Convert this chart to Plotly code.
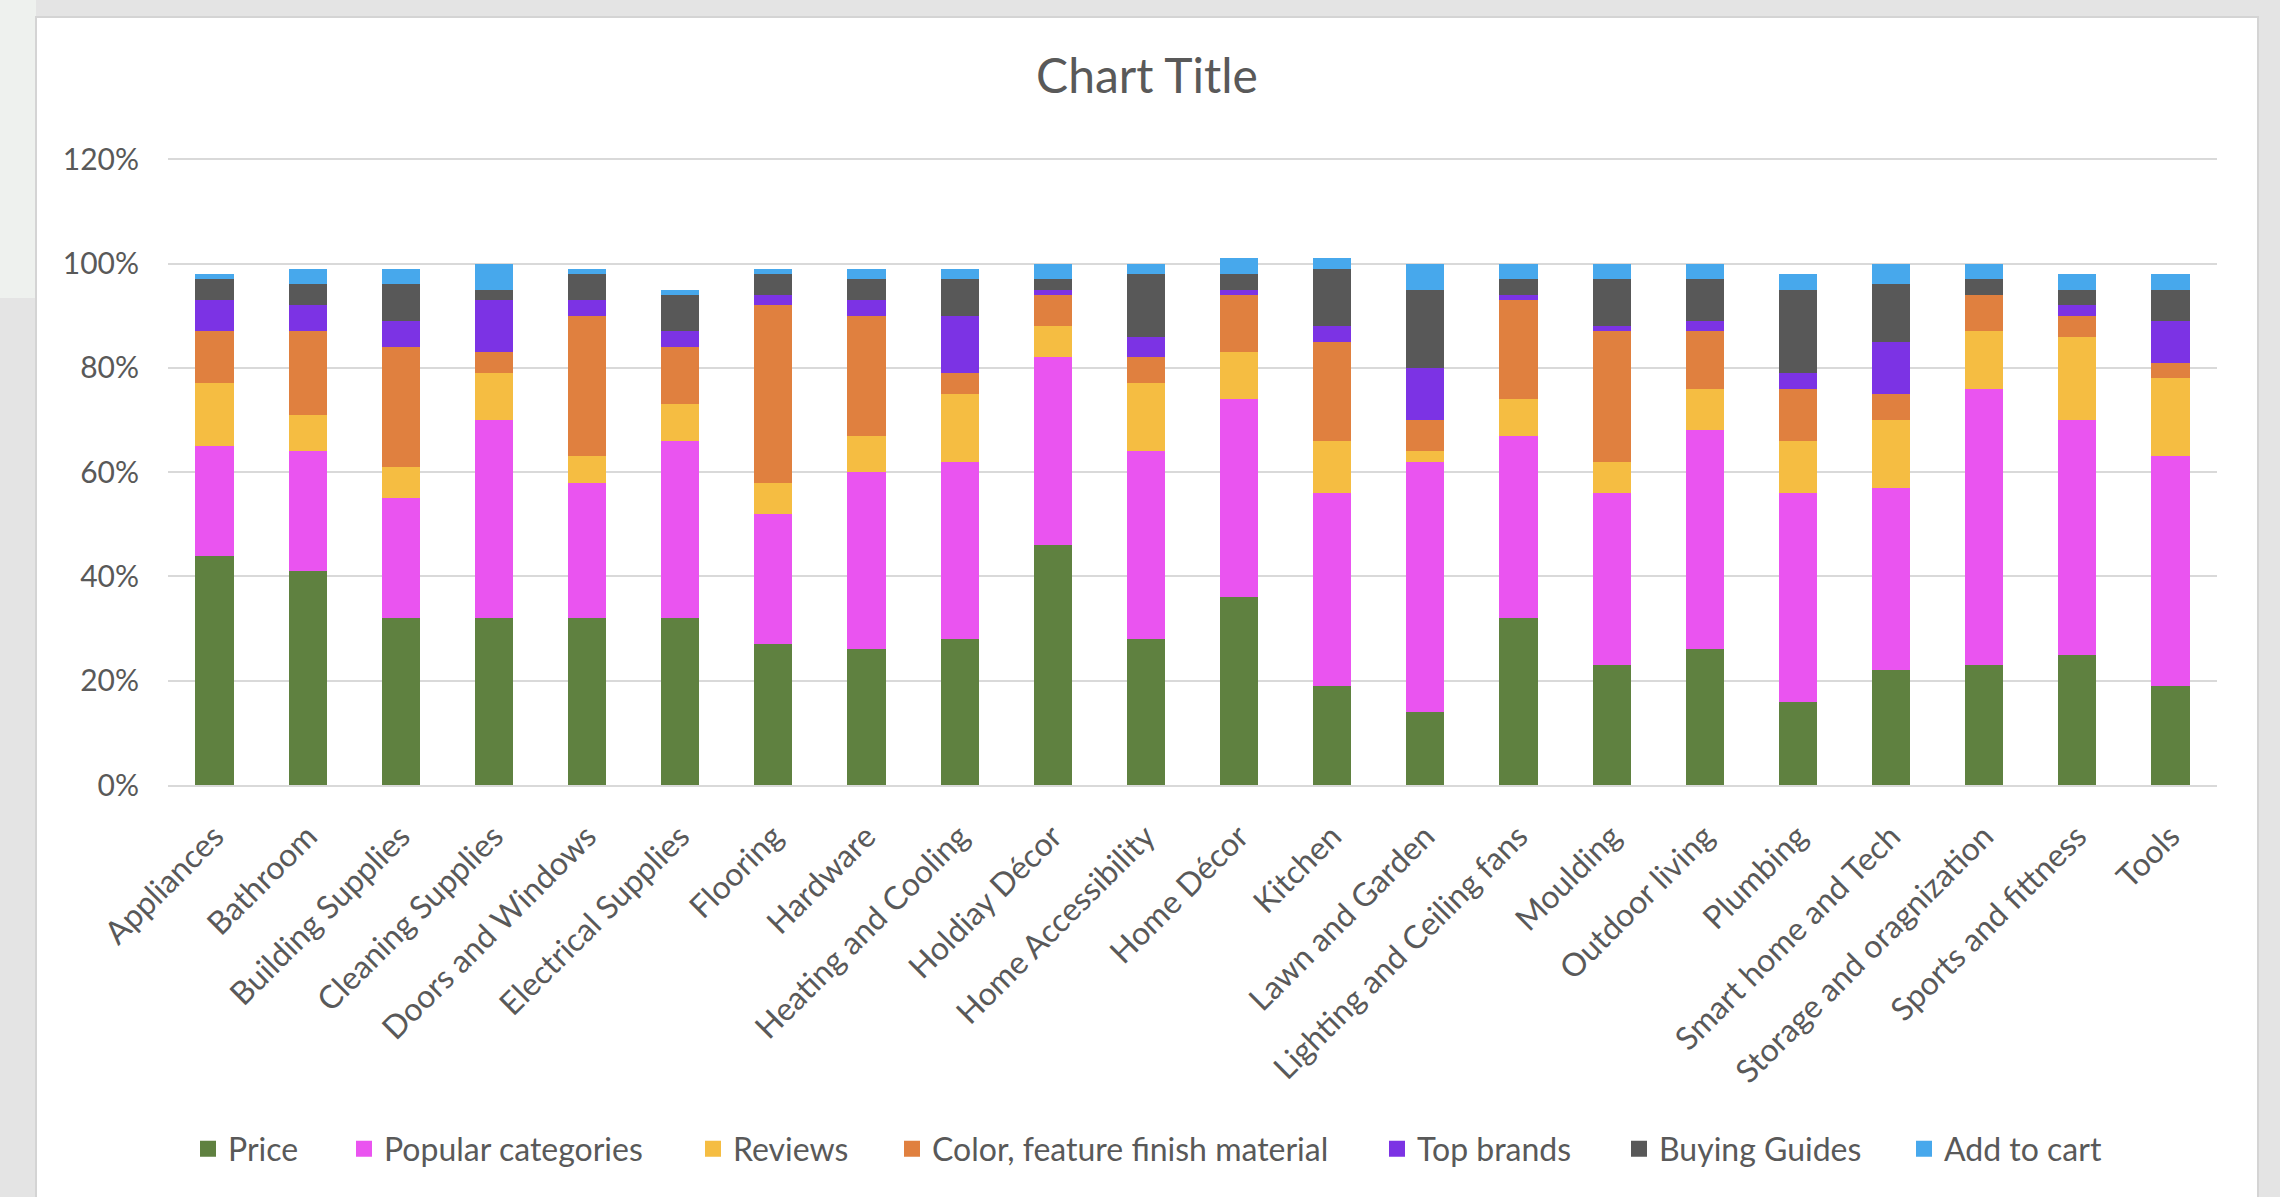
import plotly.graph_objects as go

categories = ["Appliances", "Bathroom", "Building Supplies", "Cleaning Supplies",
              "Doors and Windows", "Electrical Supplies", "Flooring", "Hardware",
              "Heating and Cooling", "Holdiay Décor", "Home Accessibility", "Home Décor",
              "Kitchen", "Lawn and Garden", "Lighting and Ceiling fans", "Moulding",
              "Outdoor living", "Plumbing", "Smart home and Tech",
              "Storage and oragnization", "Sports and fittness", "Tools"]

price = [44, 41, 32, 32, 32, 32, 27, 26, 28, 46, 28, 36, 19, 14, 32, 23, 26, 16, 22, 23, 25, 19]
popular_categories = [21, 23, 23, 38, 26, 34, 25, 34, 34, 36, 36, 38, 37, 48, 35, 33, 42, 40, 35, 53, 45, 44]
reviews = [12, 7, 6, 9, 5, 7, 6, 7, 13, 6, 13, 9, 10, 2, 7, 6, 8, 10, 13, 11, 16, 15]
color_feature = [10, 16, 23, 4, 27, 11, 34, 23, 4, 6, 5, 11, 19, 6, 19, 25, 11, 10, 5, 7, 4, 3]
top_brands = [6, 5, 5, 10, 3, 3, 2, 3, 11, 1, 4, 1, 3, 10, 1, 1, 2, 3, 10, 0, 2, 8]
buying_guides = [4, 4, 7, 2, 5, 7, 4, 4, 7, 2, 12, 3, 11, 15, 3, 9, 8, 16, 11, 3, 3, 6]
add_to_cart = [1, 3, 3, 5, 1, 1, 1, 2, 2, 3, 2, 3, 2, 5, 3, 3, 3, 3, 4, 3, 3, 3]

series_names = ["Price", "Popular categories", "Reviews", "Color, feature finish material",
                "Top brands", "Buying Guides", "Add to cart"]
series_values = [price, popular_categories, reviews, color_feature, top_brands,
                 buying_guides, add_to_cart]
series_colors = ["#5f8140", "#ea54f0", "#f5bd42", "#e0803f", "#7c33e4", "#585858", "#47a8ec"]

y_ticks = [0, 0.2, 0.4, 0.6, 0.8, 1.0, 1.2]

W, H = 2280, 1197
ML, MR, MT, MB = 168, 63, 154, 412
PW = W - ML - MR
PH = H - MT - MB
FONT = "Lato"
TXT = "#595959"

def px_x(px):
    return (px - ML) / PW

def px_y(py):
    return (H - MB - py) / PH

fig = go.Figure()
for name, vals, col in zip(series_names, series_values, series_colors):
    fig.add_trace(go.Bar(x=categories, y=[v / 100 for v in vals], name=name,
                         marker=dict(color=col, line=dict(width=0)),
                         showlegend=False))

legend_left_px = [188, 344, 693, 892, 1377, 1619, 1904]
legends = {}
for i, (name, col) in enumerate(zip(series_names, series_colors)):
    key = "legend" if i == 0 else f"legend{i + 1}"
    fig.add_trace(go.Scatter(x=[None], y=[None], mode="markers", name=name,
                             marker=dict(symbol="square", size=16, color=col),
                             legend=key, showlegend=True))
    legends[key] = dict(x=px_x(legend_left_px[i]), y=px_y(1149), xanchor="left",
                        yanchor="middle", orientation="h", bgcolor="rgba(0,0,0,0)",
                        font=dict(family=FONT, size=32, color=TXT))

fig.update_layout(
    width=W, height=H,
    margin=dict(l=ML, r=MR, t=MT, b=MB),
    paper_bgcolor="#e4e4e4",
    plot_bgcolor="white",
    barmode="stack",
    bargap=0.59,
    title=dict(text="Chart Title", x=1147 / W, y=1 - 76 / H, xanchor="center",
               yanchor="middle", font=dict(family=FONT, size=48, color=TXT)),
    xaxis=dict(type="category", categoryorder="array", categoryarray=categories,
               tickangle=-45, tickfont=dict(family=FONT, size=32, color=TXT),
               showgrid=False, showline=True, linecolor="#d9d9d9", linewidth=2,
               ticks="", ticklabelstandoff=18),
    yaxis=dict(range=[0, 1.21], tickmode="array", tickvals=y_ticks, tickformat=".0%",
               tickfont=dict(family=FONT, size=30, color=TXT),
               showgrid=True, gridcolor="#d9d9d9", gridwidth=2,
               zeroline=False, showline=False, ticks="", ticklabelstandoff=28),
    font=dict(family=FONT, color=TXT),
    shapes=[
        dict(type="rect", xref="paper", yref="paper", layer="below",
             x0=px_x(0), x1=px_x(36), y0=px_y(0), y1=px_y(298),
             fillcolor="#eef1ee", line=dict(width=0)),
        dict(type="rect", xref="paper", yref="paper", layer="below",
             x0=px_x(36), x1=px_x(2258), y0=px_y(17), y1=px_y(H + 5),
             fillcolor="white", line=dict(color="#d4d4d4", width=2)),
    ],
    **legends,
)

fig.write_html("out.html")
